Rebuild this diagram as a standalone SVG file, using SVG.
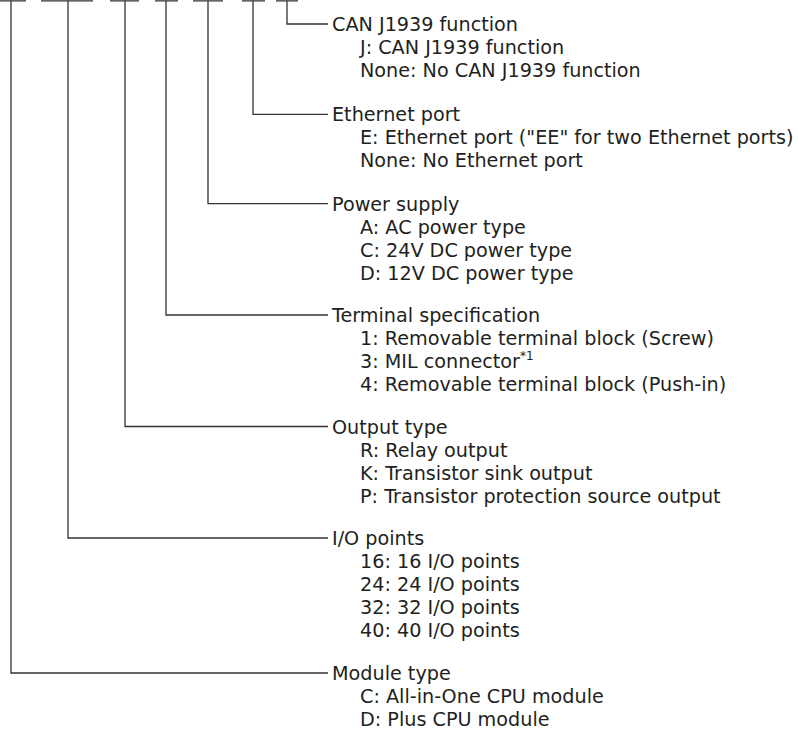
<svg xmlns="http://www.w3.org/2000/svg" width="798" height="737" viewBox="0 0 798 737">
<style>
.bg{fill:#ffffff}
.ln{fill:none;stroke:#333333;stroke-width:1.3}
text{font-family:"DejaVu Sans","Liberation Sans",sans-serif;font-size:19.2px;fill:#231f20}
.sup{font-size:12px}
</style>
<rect class="bg" x="0" y="0" width="798" height="737"/>
<g id="connectors">
<path class="ln" d="M0 0.8H26 M41 0.8H93 M110 0.8H139 M155 0.8H178 M193 0.8H223 M242 0.8H265 M276 0.8H298"/>
<path class="ln" d="M287 0.8V24H328"/>
<path class="ln" d="M253 0.8V114.3H328"/>
<path class="ln" d="M208 0.8V203.6H328"/>
<path class="ln" d="M166 0.8V315H328"/>
<path class="ln" d="M125 0.8V426.5H328"/>
<path class="ln" d="M68 0.8V538H328"/>
<path class="ln" d="M11 0.8V673H328"/>
</g>
<g id="can">
<text x="332" y="31">CAN J1939 function</text>
<text x="360" y="54">J: CAN J1939 function</text>
<text x="360" y="77">None: No CAN J1939 function</text>
</g>
<g id="ethernet">
<text x="332" y="121.3">Ethernet port</text>
<text x="360" y="144.3">E: Ethernet port ("EE" for two Ethernet ports)</text>
<text x="360" y="167.3">None: No Ethernet port</text>
</g>
<g id="power">
<text x="332" y="210.6">Power supply</text>
<text x="360" y="233.6">A: AC power type</text>
<text x="360" y="256.6">C: 24V DC power type</text>
<text x="360" y="279.6">D: 12V DC power type</text>
</g>
<g id="terminal">
<text x="332" y="322">Terminal specification</text>
<text x="360" y="345">1: Removable terminal block (Screw)</text>
<text x="360" y="368">3: MIL connector<tspan class="sup" dy="-8">*1</tspan></text>
<text x="360" y="391">4: Removable terminal block (Push-in)</text>
</g>
<g id="output">
<text x="332" y="433.5">Output type</text>
<text x="360" y="456.5">R: Relay output</text>
<text x="360" y="479.5">K: Transistor sink output</text>
<text x="360" y="502.5">P: Transistor protection source output</text>
</g>
<g id="io">
<text x="332" y="545">I/O points</text>
<text x="360" y="568">16: 16 I/O points</text>
<text x="360" y="591">24: 24 I/O points</text>
<text x="360" y="614">32: 32 I/O points</text>
<text x="360" y="637">40: 40 I/O points</text>
</g>
<g id="module">
<text x="332" y="680">Module type</text>
<text x="360" y="703">C: All-in-One CPU module</text>
<text x="360" y="726">D: Plus CPU module</text>
</g>
</svg>
